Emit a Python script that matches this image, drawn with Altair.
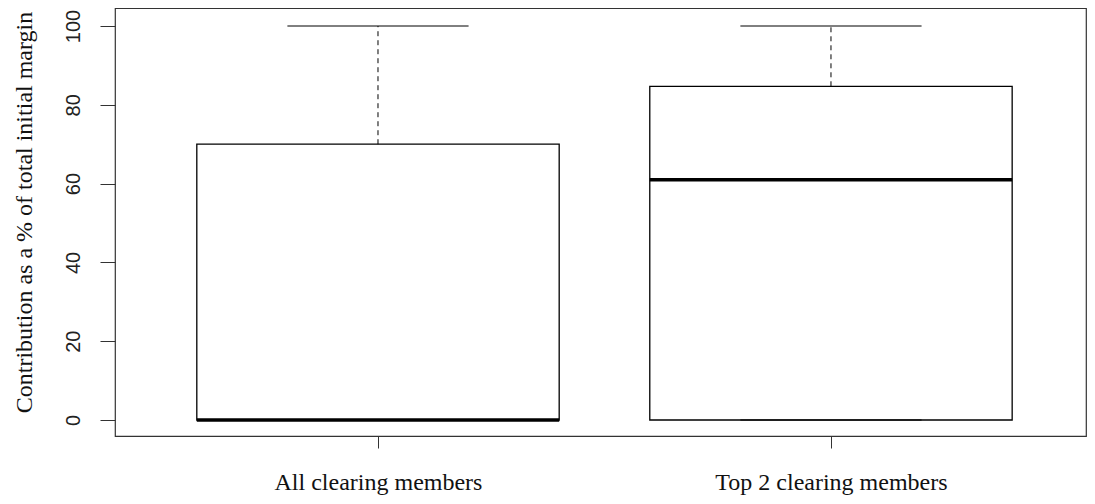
import altair as alt
import pandas as pd

groups = ["All clearing members", "Top 2 clearing members"]
positions = [1, 2]
lower = [0, 0]
q1 = [0, 0]
median = [0, 61]
q3 = [70, 84.7]
upper = [100, 100]
y_ticks = [0, 20, 40, 60, 80, 100]

df = pd.DataFrame({
    "group": groups, "pos": positions, "lower": lower, "q1": q1,
    "median": median, "q3": q3, "upper": upper,
})

label_expr = " : ".join(
    [f"datum.value == {p} ? '{g}'" for p, g in zip(positions, groups)]
) + " : ''"

xscale = alt.Scale(domain=[0.4194, 2.563], nice=False, zero=False)
yscale = alt.Scale(domain=[-4.06, 104.57], nice=False, zero=False)

xaxis = alt.Axis(values=positions, labelExpr=label_expr, title=None, grid=False,
                 domain=False, tickSize=12, tickColor="#333", tickWidth=1,
                 labelFont="Liberation Serif", labelFontSize=24, labelColor="#111",
                 labelBaseline="alphabetic", labelPadding=41, labelAngle=0,
                 labelLimit=0)
yaxis = alt.Axis(values=y_ticks, title="Contribution as a % of total initial margin",
                 grid=False, domain=False, tickSize=15, tickColor="#333", tickWidth=1,
                 labelFont="Liberation Sans", labelFontSize=20, labelColor="#222",
                 labelAngle=-90, labelAlign="center", labelBaseline="alphabetic",
                 labelPadding=21, labelLimit=0, labelOverlap=False,
                 titleFont="Liberation Serif", titleFontSize=24, titleFontWeight="normal",
                 titleColor="#111", titleAngle=-90, titleAlign="center",
                 titleBaseline="alphabetic", titleX=-84, titleY=204)

base = alt.Chart(df).transform_calculate(
    left="datum.pos - 0.4", right="datum.pos + 0.4",
    capl="datum.pos - 0.2", capr="datum.pos + 0.2",
)

boxes = base.mark_rect(fill="white", stroke="black", strokeWidth=1.3).encode(
    x=alt.X("left:Q", scale=xscale, axis=xaxis),
    x2="right:Q",
    y=alt.Y("q1:Q", scale=yscale, axis=yaxis),
    y2="q3:Q",
)

whisk_up = base.mark_rule(color="black", strokeWidth=1, strokeDash=[5, 4]).encode(
    x="pos:Q", y="q3:Q", y2="upper:Q")
whisk_lo = base.mark_rule(color="black", strokeWidth=1, strokeDash=[5, 4]).encode(
    x="pos:Q", y="lower:Q", y2="q1:Q")
cap_up = base.mark_rule(color="black", strokeWidth=1).encode(
    x="capl:Q", x2="capr:Q", y="upper:Q")
cap_lo = base.mark_rule(color="black", strokeWidth=1).encode(
    x="capl:Q", x2="capr:Q", y="lower:Q")
med = base.mark_rule(color="black", strokeWidth=3.5).encode(
    x="left:Q", x2="right:Q", y="median:Q")

chart = alt.layer(boxes, whisk_up, whisk_lo, cap_up, cap_lo, med).properties(
    width=971, height=428,
    autosize=alt.AutoSizeParams(type="none"),
    padding={"left": 107, "top": 0, "right": 1, "bottom": 60},
).configure(
    background="white",
    view=alt.ViewConfig(stroke="#333", strokeWidth=1.2),
)

chart.save("out.html", embed_options={"renderer": "svg", "actions": False})
